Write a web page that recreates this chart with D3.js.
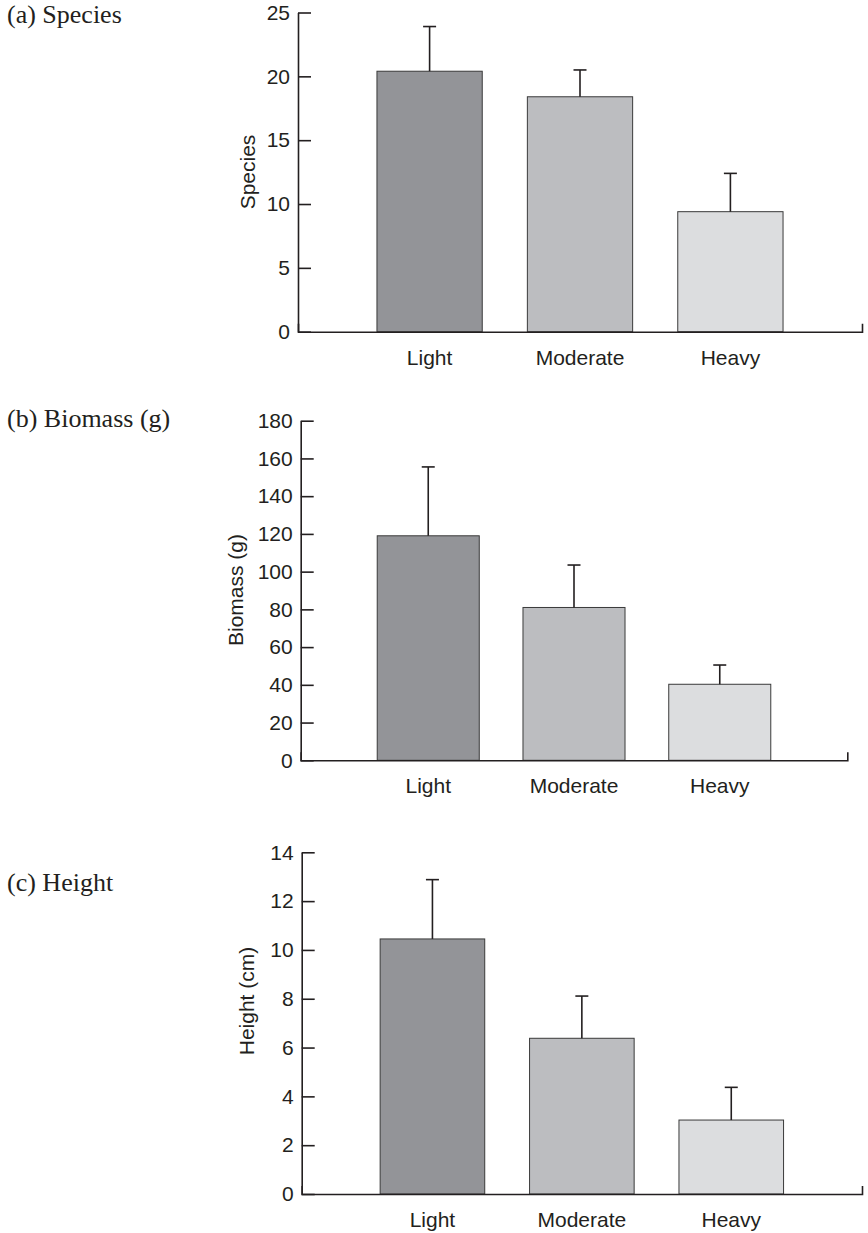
<!DOCTYPE html>
<html>
<head>
<meta charset="utf-8">
<script src="https://cdn.jsdelivr.net/npm/d3@7"></script>
<style>
  body { margin: 0; background: #fff; }
  svg { display: block; }
</style>
</head>
<body>
<svg id="chart"></svg>
<script>
// Three stacked bar panels (species, biomass, height) by grazing intensity,
// each bar with a one-sided error bar above it.

const categories = ["Light", "Moderate", "Heavy"];

const speciesMean = [20.4, 18.4, 9.4];
const speciesErr = [3.5, 2.1, 3.0];
const speciesTicks = [0, 5, 10, 15, 20, 25];

const biomassMean = [119, 81, 40.3];
const biomassErr = [36.5, 22.5, 10.2];
const biomassTicks = [0, 20, 40, 60, 80, 100, 120, 140, 160, 180];

const heightMean = [10.45, 6.38, 3.03];
const heightErr = [2.43, 1.73, 1.34];
const heightTicks = [0, 2, 4, 6, 8, 10, 12, 14];

const barColors = ["#939498", "#bcbdc0", "#dcdddf"];

const width = 868;
const height = 1233;
const INK = "#231f20";
const SANS = "'Liberation Sans', Arial, sans-serif";
const FS = 21;

const svg = d3.select("#chart")
  .attr("width", width)
  .attr("height", height);

const panels = [
  {
    title: "(a) Species", titleY: 23, yLabel: "Species",
    mean: speciesMean, err: speciesErr, ticks: speciesTicks,
    x0: 298, x1: 862, y0: 331.7, y1: 12.5,
    labelX: 255, labelY: 172
  },
  {
    title: "(b) Biomass (g)", titleY: 427, yLabel: "Biomass (g)",
    mean: biomassMean, err: biomassErr, ticks: biomassTicks,
    x0: 300.7, x1: 847.3, y0: 760.3, y1: 420.7,
    labelX: 243, labelY: 590
  },
  {
    title: "(c) Height", titleY: 891, yLabel: "Height (cm)",
    mean: heightMean, err: heightErr, ticks: heightTicks,
    x0: 301.7, x1: 862, y0: 1194, y1: 852.3,
    labelX: 254, labelY: 1001
  }
];

panels.forEach(drawPanel);

function drawPanel(p) {
  const g = svg.append("g");

  const x = d3.scaleBand()
    .domain(categories)
    .range([p.x0, p.x1])
    .paddingInner(0.3)
    .paddingOuter(0.525);

  const y = d3.scaleLinear()
    .domain(d3.extent(p.ticks))
    .range([p.y0, p.y1]);

  const rows = categories.map((c, i) => ({ c, m: p.mean[i], e: p.err[i], color: barColors[i] }));

  // panel title (serif, top-left)
  g.append("text")
    .attr("x", 7).attr("y", p.titleY)
    .attr("font-family", "'Liberation Serif', 'Times New Roman', serif")
    .attr("font-size", 26)
    .attr("fill", INK)
    .text(p.title);

  // bars
  g.selectAll("rect.bar")
    .data(rows)
    .join("rect")
    .attr("class", "bar")
    .attr("x", d => x(d.c))
    .attr("y", d => y(d.m))
    .attr("width", x.bandwidth())
    .attr("height", d => y(0) - y(d.m))
    .attr("fill", d => d.color)
    .attr("stroke", "#3a3a3a")
    .attr("stroke-width", 1);

  // error bars: stem + cap
  const cap = 6.5;
  const eb = g.selectAll("g.err").data(rows).join("g").attr("class", "err")
    .attr("stroke", INK).attr("stroke-width", 1.6);
  eb.append("line")
    .attr("x1", d => x(d.c) + x.bandwidth() / 2)
    .attr("x2", d => x(d.c) + x.bandwidth() / 2)
    .attr("y1", d => y(d.m))
    .attr("y2", d => y(d.m + d.e));
  eb.append("line")
    .attr("x1", d => x(d.c) + x.bandwidth() / 2 - cap)
    .attr("x2", d => x(d.c) + x.bandwidth() / 2 + cap)
    .attr("y1", d => y(d.m + d.e))
    .attr("y2", d => y(d.m + d.e));

  // y axis, ticks pointing inward
  const yAxis = g.append("g")
    .attr("transform", `translate(${p.x0},0)`)
    .call(d3.axisLeft(y).tickValues(p.ticks).tickSize(-13).tickSizeOuter(0).tickPadding(8));
  yAxis.selectAll("path, line").attr("stroke", INK).attr("stroke-width", 1.6);
  yAxis.selectAll("text")
    .attr("font-family", SANS)
    .attr("font-size", FS)
    .attr("fill", INK);

  // x axis: baseline with a small upturned tick at the right end
  const xAxis = g.append("g")
    .attr("transform", `translate(0,${p.y0})`)
    .call(d3.axisBottom(x).tickSize(0).tickSizeOuter(-8).tickPadding(18));
  xAxis.selectAll("path").attr("stroke", INK).attr("stroke-width", 1.6);
  xAxis.selectAll("text")
    .attr("font-family", SANS)
    .attr("font-size", FS)
    .attr("fill", INK)
    .attr("dy", "0.71em");

  // rotated y label
  g.append("text")
    .attr("transform", `translate(${p.labelX},${p.labelY}) rotate(-90)`)
    .attr("text-anchor", "middle")
    .attr("font-family", SANS)
    .attr("font-size", FS)
    .attr("fill", INK)
    .text(p.yLabel);
}
</script>
</body>
</html>
